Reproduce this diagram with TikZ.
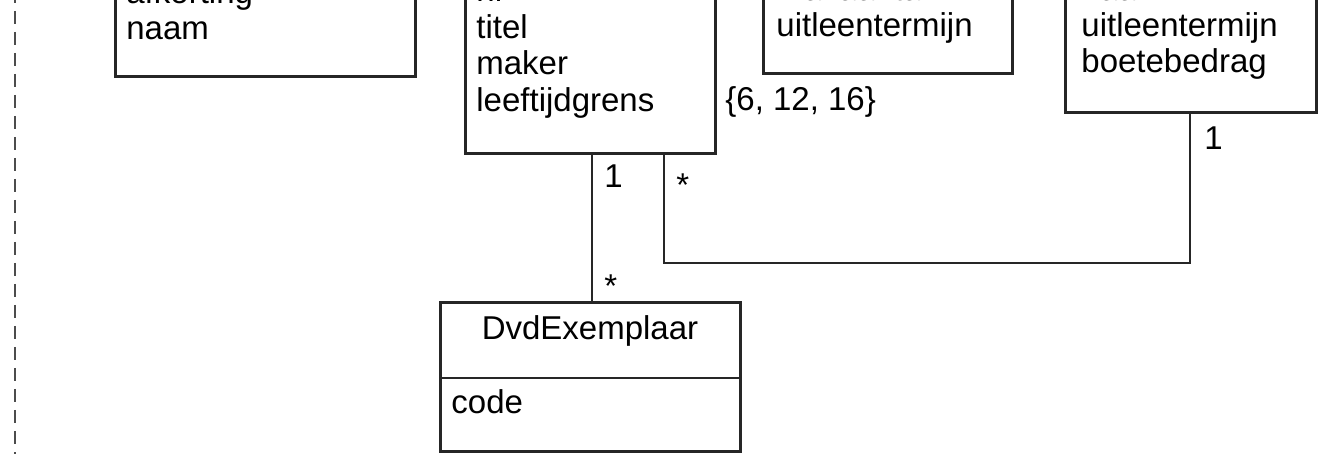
\documentclass[tikz,border=0pt]{standalone}
\usepackage{fontspec}
\setmainfont{Liberation Sans}
\usetikzlibrary{positioning}
\usetikzlibrary{calc}
\usetikzlibrary{fit}
\colorlet{frame colour}{black!85}
\colorlet{margin colour}{black!70}
\tikzset{
    % Class boxes are drawn exactly round a list of corner points
    class box/.style={draw=frame colour, line width=1.5pt, fit={#1}, inner sep=0},
    % Associations are plain thin lines
    assoc/.style={color=frame colour, line width=1pt},
    % We almost always want left aligned node text
    every node/.style={align=left},
}

\begin{document}
\begin{tikzpicture}[
    x=0.5pt, y=-0.5pt,
    attr/.style={font=\fontsize{16.5}{18}\selectfont, inner sep=0, anchor=base west},
    mult/.style={attr},
    ]

% This path fixes the extent of the (cropped) diagram.
\useasboundingbox (0,0) rectangle (1318,454);
\clip (0,0) rectangle (1318,454);

% Margin line
\coordinate (margin top) at (15,0);
\coordinate (margin bottom) at (15,454);
\draw [margin colour, line width=0.9pt, dash pattern=on 6.5pt off 4pt, dash phase=5pt]
    (margin top) -- (margin bottom);

% Class boxes, their tops run off the picture
\node [class box={(115,-60) (415,76.5)}] (genre) {};
\node [class box={(465.5,-60) (715,153.5)}] (dvd) {};
\node [class box={(763.5,-60) (1012.5,73.5)}] (soort) {};
\node [class box={(1065.5,-60) (1316.5,112.5)}] (tarief) {};

\foreach \t [count=\i] in {afkorting, naam}
    \node [attr] (genre attr \i) at (126, {4+36*(\i-1)}) {\t};
\foreach \t [count=\i] in {nr, titel, maker, leeftijdgrens}
    \node [attr] (dvd attr \i) at (476, {2+36.4*(\i-1)}) {\t};
\foreach \t [count=\i] in {maxaantal, uitleentermijn}
    \node [attr] (soort attr \i) at (776, {1+36*(\i-1)}) {\t};
\foreach \t [count=\i] in {naam, uitleentermijn, boetebedrag}
    \node [attr] (tarief attr \i) at (1081, {1+36*(\i-1)}) {\t};

\node [attr] (grenzen) at (725,111) {\{6, 12, 16\}};

% Copy of a dvd
\node [class box={(440.5,303) (740.5,451.5)}] (exemplaar) {};
\draw [assoc]
    ($(exemplaar.north west)!0.504!(exemplaar.south west)$) --
    ($(exemplaar.north east)!0.504!(exemplaar.south east)$);
\node [attr, anchor=base] (exemplaar name) at (590,340) {DvdExemplaar};
\node [attr] (exemplaar attr) at (451,414) {code};

% Associations
\coordinate (kolom1) at (592,0);
\coordinate (kolom2) at (664,0);
\coordinate (kolom3) at (1190,0);
\coordinate (knik) at (0,263);
\draw [assoc] (dvd.south -| kolom1) -- (exemplaar.north -| kolom1);
\draw [assoc] (dvd.south -| kolom2) |- (knik -| kolom3) -- (tarief.south -| kolom3);

\node [mult] (mult dvd) at (604,188) {1};
\node [mult] (mult exemplaar) at (604,298) {*};
\node [mult] (mult film) at (676,197) {*};
\node [mult] (mult tarief) at (1204,150) {1};

\end{tikzpicture}
\end{document}
